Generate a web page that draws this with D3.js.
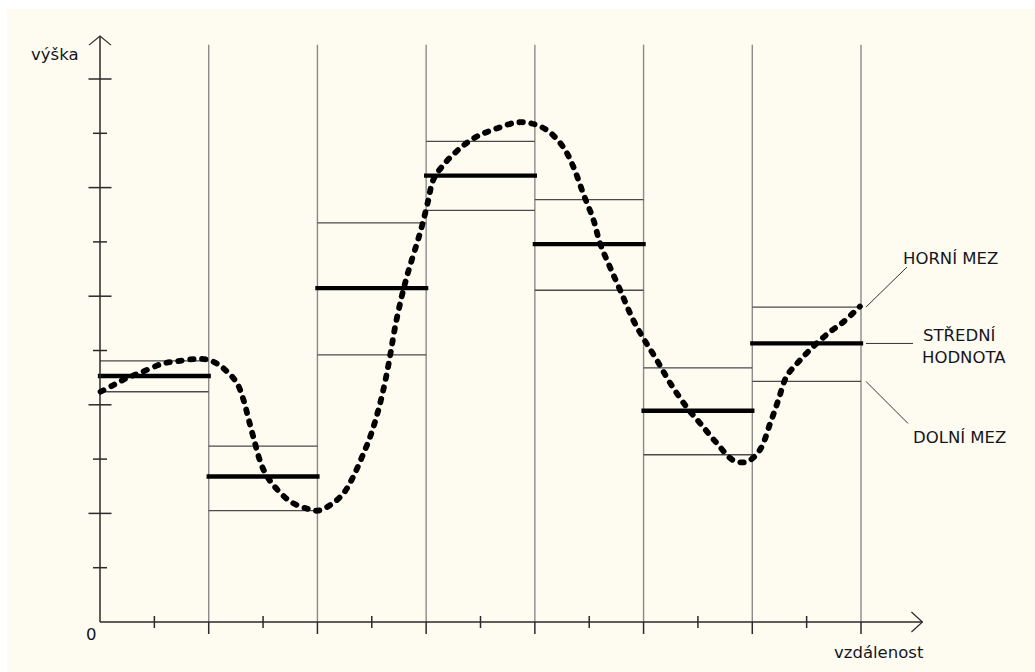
<!DOCTYPE html>
<html>
<head>
<meta charset="utf-8">
<script src="https://cdn.jsdelivr.net/npm/d3@7"></script>
<style>
  html, body { margin: 0; padding: 0; background: #ffffff; }
  svg { display: block; }
  text { font-family: "DejaVu Sans", Verdana, sans-serif; fill: #15151f; }
</style>
</head>
<body>
<svg id="chart" width="1035" height="672"></svg>
<script>
// ---- data ----
const yLabel = "výška";
const xLabel = "vzdálenost";
const originLabel = "0";
const segmentStarts = [0, 2, 4, 6, 8, 10, 12];
const segmentWidth = 2;
const upperLimit = [4.81, 3.24, 7.35, 8.85, 7.78, 4.68, 5.80];
const meanValue  = [4.53, 2.68, 6.15, 8.22, 6.96, 3.89, 5.13];
const lowerLimit = [4.24, 2.05, 4.92, 7.58, 6.11, 3.08, 4.43];
const curveX = [0.01,0.24,0.49,0.74,1.16,1.47,1.72,1.93,2.15,2.36,2.52,2.64,2.73,2.82,2.94,3.04,3.19,3.50,3.80,4.01,4.23,4.48,4.66,4.82,4.97,5.12,5.24,5.34,5.43,5.55,5.67,5.83,5.92,6.04,6.13,6.32,6.62,6.93,7.30,7.67,7.94,8.22,8.52,8.71,8.89,9.08,9.20,9.38,9.57,9.81,10.00,10.24,10.49,10.79,11.04,11.35,11.65,11.90,12.14,12.33,12.48,12.63,12.85,13.12,13.40,13.68,13.98];
const curveY = [4.24,4.36,4.49,4.59,4.76,4.81,4.84,4.84,4.76,4.59,4.40,4.09,3.75,3.41,2.98,2.74,2.52,2.22,2.09,2.05,2.15,2.37,2.68,3.04,3.41,3.90,4.40,4.92,5.44,5.99,6.45,6.97,7.28,7.77,8.14,8.42,8.72,8.94,9.09,9.20,9.18,9.06,8.75,8.38,7.89,7.40,6.97,6.54,6.11,5.56,5.22,4.83,4.40,3.96,3.66,3.29,2.98,2.95,3.17,3.66,4.09,4.52,4.79,5.07,5.32,5.53,5.81];
const yTicks = d3.range(1, 11);
const xTicks = d3.range(1, 15);
const xMaxAxis = 15.13, yMaxAxis = 10.79, gridTop = 10.63;
const legendLines = [["HORNÍ MEZ"], ["STŘEDNÍ", "HODNOTA"], ["DOLNÍ MEZ"]];

// ---- drawing ----
const svg = d3.select("#chart");
svg.append("rect").attr("x", 7).attr("y", 9).attr("width", 1028).attr("height", 663).attr("fill", "#fefcf0");

const x = d3.scaleLinear().domain([0, 14]).range([100, 861]);
const y = d3.scaleLinear().domain([0, 10]).range([622, 79]);

const grid = "#8a8a8a", axisCol = "#2a2a2a";

// vertical grid lines at segment boundaries
const bounds = segmentStarts.map(s => s + segmentWidth);
svg.append("g").selectAll("line").data(bounds).join("line")
  .attr("x1", d => x(d)).attr("x2", d => x(d))
  .attr("y1", y(gridTop)).attr("y2", y(0))
  .attr("stroke", grid).attr("stroke-width", 1.4);

// thin limit lines
const segs = segmentStarts.map((s, i) => ({s, e: s + segmentWidth, u: upperLimit[i], m: meanValue[i], l: lowerLimit[i]}));
const g = svg.append("g");
["u", "l"].forEach(k => {
  g.selectAll("line." + k).data(segs).join("line").attr("class", k)
    .attr("x1", d => x(d.s)).attr("x2", d => x(d.e))
    .attr("y1", d => y(d[k])).attr("y2", d => y(d[k]))
    .attr("stroke", "#4a4a4a").attr("stroke-width", 1.3);
});
g.selectAll("line.m").data(segs).join("line").attr("class", "m")
  .attr("x1", d => x(d.s)).attr("x2", d => x(d.e))
  .attr("y1", d => y(d.m)).attr("y2", d => y(d.m))
  .attr("stroke", "#000").attr("stroke-width", 4.3).attr("stroke-linecap", "square");

// axes
const ax = svg.append("g").attr("stroke", axisCol).attr("stroke-width", 1.5).attr("fill", "none");
ax.append("line").attr("x1", x(0)).attr("x2", x(0)).attr("y1", y(0)).attr("y2", y(yMaxAxis));
ax.append("line").attr("x1", x(0)).attr("x2", x(xMaxAxis)).attr("y1", y(0)).attr("y2", y(0));
ax.append("path").attr("d", `M${x(0)-11},${y(yMaxAxis)+9} L${x(0)},${y(yMaxAxis)} L${x(0)+11},${y(yMaxAxis)+9}`).attr("stroke-width", 1.2);
ax.append("path").attr("d", `M${x(xMaxAxis)-11},${y(0)-10} L${x(xMaxAxis)},${y(0)} L${x(xMaxAxis)-11},${y(0)+10}`).attr("stroke-width", 1.2);

// y ticks
ax.selectAll("line.yt").data(yTicks).join("line").attr("class", "yt")
  .attr("x1", d => x(0) - (d % 2 === 0 ? 11.5 : 7)).attr("x2", d => x(0) + (d % 2 === 0 ? 11.5 : 7))
  .attr("y1", d => y(d)).attr("y2", d => y(d));
// x ticks
ax.selectAll("line.xt").data(xTicks).join("line").attr("class", "xt")
  .attr("x1", d => x(d)).attr("x2", d => x(d))
  .attr("y1", d => d % 2 === 0 ? y(0) : y(0) - 6).attr("y2", d => d % 2 === 0 ? y(0) + 12 : y(0) + 6);

// curve
const line = d3.line().x(d => x(d[0])).y(d => y(d[1])).curve(d3.curveCatmullRom.alpha(0.5));
svg.append("path").datum(curveX.map((v, i) => [v, curveY[i]]))
  .attr("d", line).attr("fill", "none").attr("stroke", "#000")
  .attr("stroke-width", 5.8).attr("stroke-dasharray", "3.5,8.5").attr("stroke-linecap", "round");

// labels
const fs = 16.5;
svg.append("text").attr("x", 31).attr("y", 60).attr("font-size", fs).text(yLabel);
svg.append("text").attr("x", 86).attr("y", 640).attr("font-size", fs).text(originLabel);
svg.append("text").attr("x", 834).attr("y", 658).attr("font-size", fs).text(xLabel);

// legend
const last = segs[segs.length - 1];
const lg = svg.append("g");
lg.append("line").attr("x1", x(last.e) + 5).attr("y1", y(last.u)).attr("x2", x(last.e) + 46).attr("y2", y(last.u) - 40).attr("stroke", "#333").attr("stroke-width", 1);
lg.append("line").attr("x1", x(last.e) + 5).attr("y1", y(last.m)).attr("x2", x(last.e) + 52).attr("y2", y(last.m)).attr("stroke", "#333").attr("stroke-width", 1);
lg.append("line").attr("x1", x(last.e) + 5).attr("y1", y(last.l)).attr("x2", x(last.e) + 47).attr("y2", y(last.l) + 42).attr("stroke", "#333").attr("stroke-width", 1);
const legPos = [[903, 264], [923, 341], [913, 443]];
legendLines.forEach((lines, i) => {
  const t = lg.append("text").attr("x", legPos[i][0]).attr("y", legPos[i][1]).attr("font-size", fs);
  lines.forEach((s, j) => t.append("tspan").attr("x", legPos[i][0] - j).attr("dy", j ? 22 : 0).text(s));
});
</script>
</body>
</html>
